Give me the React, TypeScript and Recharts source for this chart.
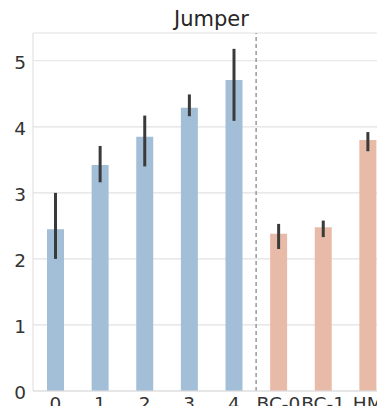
import { BarChart, Bar, Cell, XAxis, YAxis, CartesianGrid, ErrorBar, ReferenceLine } from "recharts";

const categories = ["0", "1", "2", "3", "4", "BC-0", "BC-1", "HM"];
const means = [2.45, 3.42, 3.85, 4.29, 4.71, 2.38, 2.48, 3.8];
const lows = [2.0, 3.16, 3.4, 4.16, 4.09, 2.15, 2.33, 3.63];
const highs = [3.0, 3.71, 4.17, 4.49, 5.18, 2.53, 2.58, 3.92];
const groups = ["main", "main", "main", "main", "main", "base", "base", "base"];
const yTicks = [0, 1, 2, 3, 4, 5];

const colors: Record<string, string> = { main: "#a2bfd7", base: "#e8bba9" };
const font = "'DejaVu Sans', sans-serif";
const tickStyle = { fontSize: 18.5, fill: "#333", fontFamily: font };

const data = categories.map((name, i) => ({
  name,
  value: means[i],
  err: [means[i] - lows[i], highs[i] - means[i]],
  group: groups[i],
}));

export default function App() {
  return (
    <div style={{ width: 377, height: 406, marginBottom: -8, overflow: "hidden", position: "relative" }}>
      <div
        style={{
          position: "absolute",
          top: -1.5,
          left: 25,
          width: 357,
          textAlign: "center",
          fontFamily: font,
          fontSize: 21,
          color: "#262626",
        }}
      >
        Jumper
      </div>
      <BarChart width={392} height={406} data={data} margin={{ top: 25, right: 10, bottom: 0, left: 0 }}>
        <CartesianGrid vertical={false} stroke="#e2e2e2" strokeWidth={1.2} />
        <XAxis
          dataKey="name"
          interval={0}
          tickLine={false}
          tickSize={0}
          tickMargin={6}
          height={23}
          axisLine={{ stroke: "#ddd" }}
          tick={tickStyle}
        />
        <XAxis xAxisId="top" orientation="top" dataKey="name" height={0} tick={false} tickLine={false} axisLine={{ stroke: "#ddd" }} />
        <YAxis
          width={25}
          domain={[0, 5.42]}
          ticks={yTicks}
          tickLine={false}
          tickSize={0}
          tickMargin={7}
          axisLine={{ stroke: "#ddd" }}
          tick={{ ...tickStyle, dy: 1.5 }}
        />
        <ReferenceLine x="BC-0" position="start" stroke="#999" strokeWidth={1.5} strokeDasharray="4 3" />
        <Bar dataKey="value" barSize={17} isAnimationActive={false}>
          {data.map((d) => (
            <Cell key={d.name} fill={colors[d.group]} />
          ))}
          <ErrorBar dataKey="err" width={0} stroke="#3a3a3a" strokeWidth={3} />
        </Bar>
      </BarChart>
    </div>
  );
}
